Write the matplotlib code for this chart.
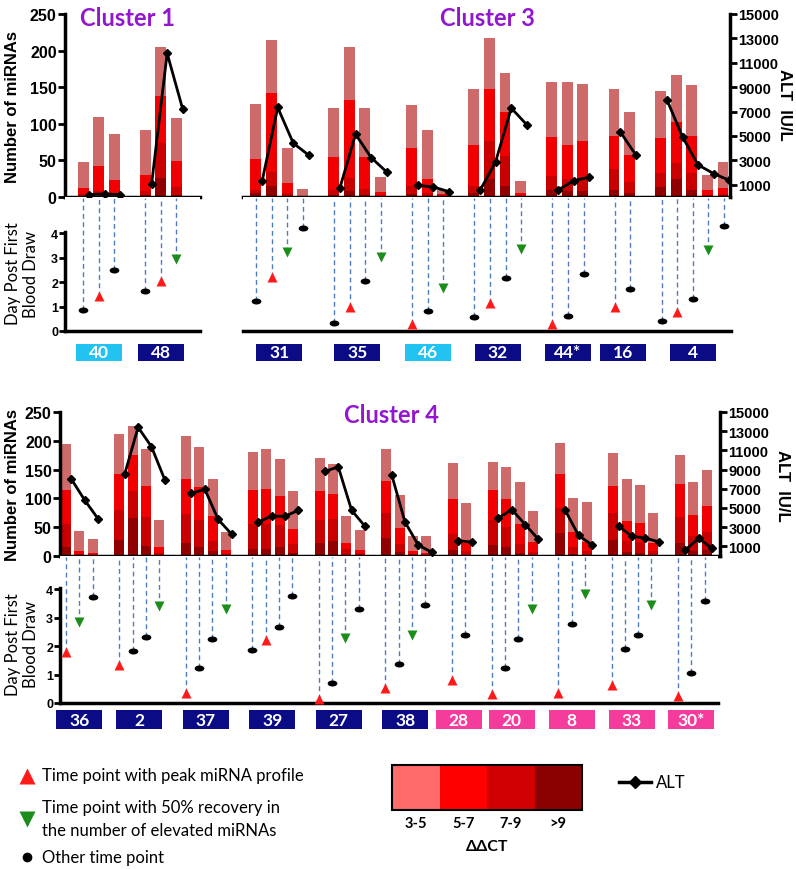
import numpy as np
import matplotlib
matplotlib.use('Agg')
import matplotlib.pyplot as plt
from matplotlib.path import Path
from matplotlib.transforms import Affine2D
from matplotlib.patches import Rectangle

plt.rcParams['font.family'] = ['Liberation Sans', 'DejaVu Sans']
CAL = ['Lato', 'DejaVu Sans']

# ---- data -------------------------------------------------------------
# cumulative counts of elevated miRNAs (ddCT > 3, > 5, > 7, > 9)
# cluster 1
c1_patients = ['40', '48']
c1_boxcol = ['light', 'navy']
c1_n3 = [[48, 109, 86], [91, 205, 108]]
c1_n5 = [[12, 42, 23], [30, 138, 49]]
c1_n7 = [[4, 8, 6], [8, 74, 13]]
c1_n9 = [[2, 2, 2], [3, 26, 3]]
c1_alt = [[200, 250, 200], [1040, 11780, 7200]]
c1_day = [[0.85, 1.41, 2.49], [1.62, 2.03, 2.92]]
c1_kind = [['o', 'p', 'o'], ['o', 'p', 'r']]

# cluster 3
c3_patients = ['31', '35', '46', '32', '44*', '16', '4']
c3_boxcol = ['navy', 'navy', 'light', 'navy', 'navy', 'navy', 'navy']
c3_n3 = [[127, 215, 67, 11], [122, 205, 121, 28], [126, 91, 10],
         [147, 217, 169, 22], [157, 157, 154], [148, 116],
         [145, 166, 153, 30, 48]]
c3_n5 = [[52, 142, 19, 2], [54, 133, 54, 7], [67, 24, 4],
         [71, 147, 116, 5], [82, 71, 77], [84, 58],
         [81, 102, 84, 10, 12]]
c3_n7 = [[10, 34, 5, 1], [10, 26, 11, 2], [15, 6, 1],
         [15, 77, 56, 2], [29, 24, 26], [38, 20],
         [33, 47, 33, 3, 4]]
c3_n9 = [[5, 15, 1, 0], [3, 8, 3, 0], [4, 2, 0],
         [5, 24, 15, 0], [10, 8, 8], [10, 5],
         [13, 24, 10, 1, 1]]
c3_alt = [[1315, 7340, 4410, 3420], [770, 5150, 3230, 2050], [960, 820, 440],
          [550, 2900, 7290, 5920], [575, 1315, 1640], [5340, 3450],
          [7970, 4930, 2630, 1920, 1370]]
c3_day = [[1.22, 2.19, 3.22, 4.19], [0.34, 1.0, 2.03, 3.04], [0.29, 0.82, 1.74],
          [0.58, 1.15, 2.16, 3.36], [0.29, 0.62, 2.32], [1.0, 1.71],
          [0.40, 0.78, 1.29, 3.29, 4.27]]
c3_kind = [['o', 'p', 'r', 'o'], ['o', 'p', 'o', 'r'], ['p', 'o', 'r'],
           ['o', 'p', 'o', 'r'], ['p', 'o', 'o'], ['p', 'o'],
           ['o', 'p', 'o', 'r', 'o']]

# cluster 4
c4_patients = ['36', '2', '37', '39', '27', '38', '28', '20', '8', '33', '30*']
c4_boxcol = ['navy'] * 6 + ['pink'] * 5
c4_n3 = [[195, 44, 29], [212, 226, 185, 62], [209, 189, 133, 41],
         [181, 185, 168, 112], [171, 160, 69, 45], [185, 106, 35, 34],
         [161, 92], [163, 154, 128, 78], [197, 100, 93],
         [178, 133, 123, 74], [175, 129, 149]]
c4_n5 = [[115, 9, 5], [143, 175, 122, 16], [133, 119, 70, 11],
         [114, 117, 105, 47], [112, 108, 22, 10], [131, 48, 8, 6],
         [99, 22], [114, 99, 56, 25], [142, 41, 24],
         [122, 61, 58, 22], [125, 71, 87]]
c4_n7 = [[55, 3, 2], [79, 113, 68, 5], [73, 62, 26, 3],
         [56, 56, 53, 21], [62, 65, 12, 5], [74, 20, 3, 2],
         [38, 8], [62, 51, 21, 7], [84, 15, 8],
         [74, 26, 24, 8], [68, 35, 41]]
c4_n9 = [[15, 0, 0], [28, 66, 18, 1], [22, 15, 9, 1],
         [13, 13, 15, 6], [22, 26, 2, 1], [32, 7, 1, 0],
         [11, 2], [19, 16, 6, 2], [40, 4, 2],
         [28, 7, 5, 2], [22, 8, 10]]
c4_alt = [[8010, 5820, 3880], [8540, 13410, 11400, 7940], [6530, 6950, 3810, 2290],
          [3530, 4160, 4130, 4760], [8820, 9280, 4760, 3100], [8470, 3530, 1130, 400],
          [1590, 1450], [3950, 4840, 3280, 1730], [4760, 2150, 1160],
          [3100, 2050, 1870, 1480], [635, 1835, 810]]
c4_day = [[1.78, 2.86, 3.71], [1.32, 1.81, 2.31, 3.39], [0.35, 1.22, 2.26, 3.30],
          [1.87, 2.22, 2.67, 3.74], [0.15, 0.70, 2.27, 3.30], [0.52, 1.38, 2.40, 3.43],
          [0.79, 2.37], [0.30, 1.22, 2.26, 3.30], [0.36, 2.78, 3.83],
          [0.62, 1.88, 2.39, 3.44], [0.23, 1.05, 3.57]]
c4_kind = [['p', 'r', 'o'], ['p', 'o', 'o', 'r'], ['p', 'o', 'o', 'r'],
           ['o', 'p', 'o', 'o'], ['p', 'o', 'r', 'o'], ['p', 'o', 'r', 'o'],
           ['p', 'o'], ['p', 'o', 'o', 'r'], ['p', 'o', 'r'],
           ['p', 'o', 'o', 'r'], ['p', 'o', 'o']]

ddct_labels = ['3-5', '5-7', '7-9', '>9']

# ---- styles -----------------------------------------------------------
bar_cols = ['#CF6A6A', '#F00000', '#C80000', '#900000']
leg_cols = ['#FF6B6B', '#FF0000', '#D00000', '#8B0000']
box_cols = {'navy': '#0B0B85', 'light': '#22C3F0', 'pink': '#F53C9C'}
purple = '#9317CF'
dash_col = '#4E7DBA'
ellipse = Path.unit_circle().transformed(Affine2D().scale(1.0, 0.62))
mk = {'p': ('^', '#FF1A1A', 7.5), 'r': ('v', '#1C8C1C', 7.5), 'o': (ellipse, 'black', 7)}

W, H = 796, 870
fig = plt.figure(figsize=(W / 100, H / 100), dpi=100)


def px_axes(x0, y0, x1, y1):
    return fig.add_axes([x0 / W, 1 - y1 / H, (x1 - x0) / W, (y1 - y0) / H])


def ftext(x, y, s, **kw):
    fig.text(x / W, 1 - y / H, s, **kw)


def group_slots(groups):
    pos, start = [], 0
    for g in groups:
        pos.append(start + np.arange(len(g)))
        start += len(g) + 1
    return pos


def flat(v):
    return np.concatenate([np.asarray(g, dtype=object) for g in v])


def draw_cluster(ax, dax, xlim, width, day_top, box_y, patients, boxcol,
                 n3, n5, n7, n9, alt, day, kind, left=True, right=True):
    pos = group_slots(n3)
    x = np.concatenate(pos)
    for vals, col in zip([n3, n5, n7, n9], bar_cols):
        ax.bar(x, flat(vals).astype(float), width, color=col, zorder=2)
    ax.set_xlim(*xlim)
    ax.set_ylim(0, 250)
    ax.set_xticks([])
    for s in ['top', 'right']:
        ax.spines[s].set_visible(False)
    ax.spines['bottom'].set_linewidth(2.5)
    if left:
        ax.spines['left'].set_linewidth(2.5)
        ax.set_yticks(np.arange(0, 251, 50))
        ax.tick_params(axis='y', width=2, length=5, labelsize=11.5, pad=1)
        for t in ax.get_yticklabels():
            t.set_fontweight('bold')
    else:
        ax.spines['left'].set_visible(False)
        ax.set_yticks([])

    tw = ax.twinx()
    tw.set_ylim(0, 15000)
    for s in ['top', 'left', 'bottom']:
        tw.spines[s].set_visible(False)
    if right:
        tw.spines['right'].set_linewidth(2.5)
        tw.set_yticks(np.arange(1000, 15001, 2000))
        tw.tick_params(axis='y', width=2, length=5, labelsize=10.5, pad=1)
        for t in tw.get_yticklabels():
            t.set_fontweight('bold')
    else:
        tw.spines['right'].set_visible(False)
        tw.set_yticks([])
    for p, a in zip(pos, alt):
        tw.plot(p + 0.4, a, '-', marker='D', color='black', lw=2, ms=4.5, zorder=5)

    # day post first blood draw
    dax.set_xlim(*xlim)
    dax.set_ylim(0, day_top)
    dax.set_xticks([])
    for s in ['top', 'right']:
        dax.spines[s].set_visible(False)
    dax.spines['bottom'].set_linewidth(2.5)
    if left:
        dax.spines['left'].set_linewidth(2.5)
        dax.spines['left'].set_bounds(0, 4.05)
        dax.set_yticks(range(5))
        dax.tick_params(axis='y', width=2, length=4, labelsize=9, pad=1)
        for t in dax.get_yticklabels():
            t.set_fontweight('bold')
    else:
        dax.spines['left'].set_visible(False)
        dax.set_yticks([])
    for xi, d, k in zip(x, flat(day).astype(float), flat(kind)):
        dax.plot([xi, xi], [d, day_top - 0.05], ls=(0, (3.5, 2.5)), color=dash_col,
                 lw=1, clip_on=False, zorder=1)
        m, c, s = mk[k]
        dax.plot(xi, d, marker=m, color=c, ms=s, mec='none', clip_on=False, zorder=3)
    y0, y1 = box_y
    bw = 46 / (dax.bbox.width / (xlim[1] - xlim[0]))
    for p, name, bc in zip(pos, patients, boxcol):
        c = p.mean()
        dax.add_patch(Rectangle((c - bw / 2, y1), bw, y0 - y1, color=box_cols[bc],
                                clip_on=False, lw=0))
        dax.text(c, (y0 + y1) / 2, name, color='white', ha='center', va='center',
                 fontsize=12.5, fontweight='bold', family=CAL, clip_on=False)


# ---- top row: cluster 1 and cluster 3 ---------------------------------
a1 = px_axes(65, 15, 200, 198)
d1 = px_axes(65, 198, 200, 332)
a3 = px_axes(243, 15, 730, 198)
d3 = px_axes(243, 198, 731, 332)
draw_cluster(a1, d1, (-1.16, 7.51), 0.7, 5.47, (-0.53, -1.22), c1_patients, c1_boxcol,
             c1_n3, c1_n5, c1_n7, c1_n9, c1_alt, c1_day, c1_kind, left=True, right=False)
draw_cluster(a3, d3, (-0.83, 30.45), 0.7, 5.47, (-0.53, -1.22), c3_patients, c3_boxcol,
             c3_n3, c3_n5, c3_n7, c3_n9, c3_alt, c3_day, c3_kind, left=False, right=True)

# ---- bottom row: cluster 4 --------------------------------------------
a4 = px_axes(60, 413, 720, 557)
d4 = px_axes(60, 557, 718, 704)
draw_cluster(a4, d4, (-0.45, 49.0), 0.75, 5.16, (-0.25, -0.91), c4_patients, c4_boxcol,
             c4_n3, c4_n5, c4_n7, c4_n9, c4_alt, c4_day, c4_kind, left=True, right=True)

# ---- titles and axis labels -------------------------------------------
for x, y, s in [(128, 18, 'Cluster 1'), (487, 18, 'Cluster 3'), (391, 416, 'Cluster 4')]:
    ftext(x, y, s, color=purple, fontsize=17, fontweight='bold', family=CAL,
          ha='center', va='center')
for y in (107, 485):
    ftext(13, y, 'Number of miRNAs', rotation=90, fontsize=12, fontweight='bold',
          ha='center', va='center')
for y in (274, 645):
    ftext(22, y, 'Day Post First\nBlood Draw', rotation=90, fontsize=12, family=CAL,
          ha='center', va='center', linespacing=1.1)
for x, y in ((785, 105), (782, 486)):
    ftext(x, y, 'ALT  IU/L', rotation=270, fontsize=12, fontweight='bold',
          ha='center', va='center')

# ---- legend -----------------------------------------------------------
lg = fig.add_axes([0, 0, 1, 1], zorder=10)
lg.set_xlim(0, W)
lg.set_ylim(H, 0)
lg.axis('off')
lg.plot(27, 777, marker='^', color='#FF1A1A', ms=11, mec='none')
lg.plot(27, 820, marker='v', color='#1C8C1C', ms=11, mec='none')
lg.plot(27, 858, marker='o', color='black', ms=7, mec='none')
lg.text(42, 776, 'Time point with peak miRNA profile', fontsize=12, family=CAL, va='center')
lg.text(42, 808, 'Time point with 50% recovery in', fontsize=12, family=CAL, va='center')
lg.text(42, 831, 'the number of elevated miRNAs', fontsize=12, family=CAL, va='center')
lg.text(42, 858, 'Other time point', fontsize=12, family=CAL, va='center')

cb_x0, cb_x1, cb_y0, cb_y1 = 392, 582, 766, 811
cw = (cb_x1 - cb_x0) / len(leg_cols)
for i, (c, lab) in enumerate(zip(leg_cols, ddct_labels)):
    lg.add_patch(Rectangle((cb_x0 + i * cw, cb_y0), cw, cb_y1 - cb_y0, color=c, lw=0))
    lg.text(cb_x0 + (i + 0.5) * cw, 824, lab, ha='center', va='center', fontsize=10.5,
            fontweight='bold', family=CAL)
lg.add_patch(Rectangle((cb_x0, cb_y0), cb_x1 - cb_x0, cb_y1 - cb_y0, fill=False,
                       ec='black', lw=1.5))
lg.text((cb_x0 + cb_x1) / 2, 847, 'ΔΔCT', ha='center', va='center', fontsize=11.5,
        fontweight='bold', family=CAL)
lg.plot([619, 651], [783, 783], color='black', lw=2.5)
lg.plot(635, 783, marker='D', color='black', ms=6)
lg.text(656, 783, 'ALT', fontsize=12, family=CAL, va='center')

fig.savefig('out.png', dpi=100)
